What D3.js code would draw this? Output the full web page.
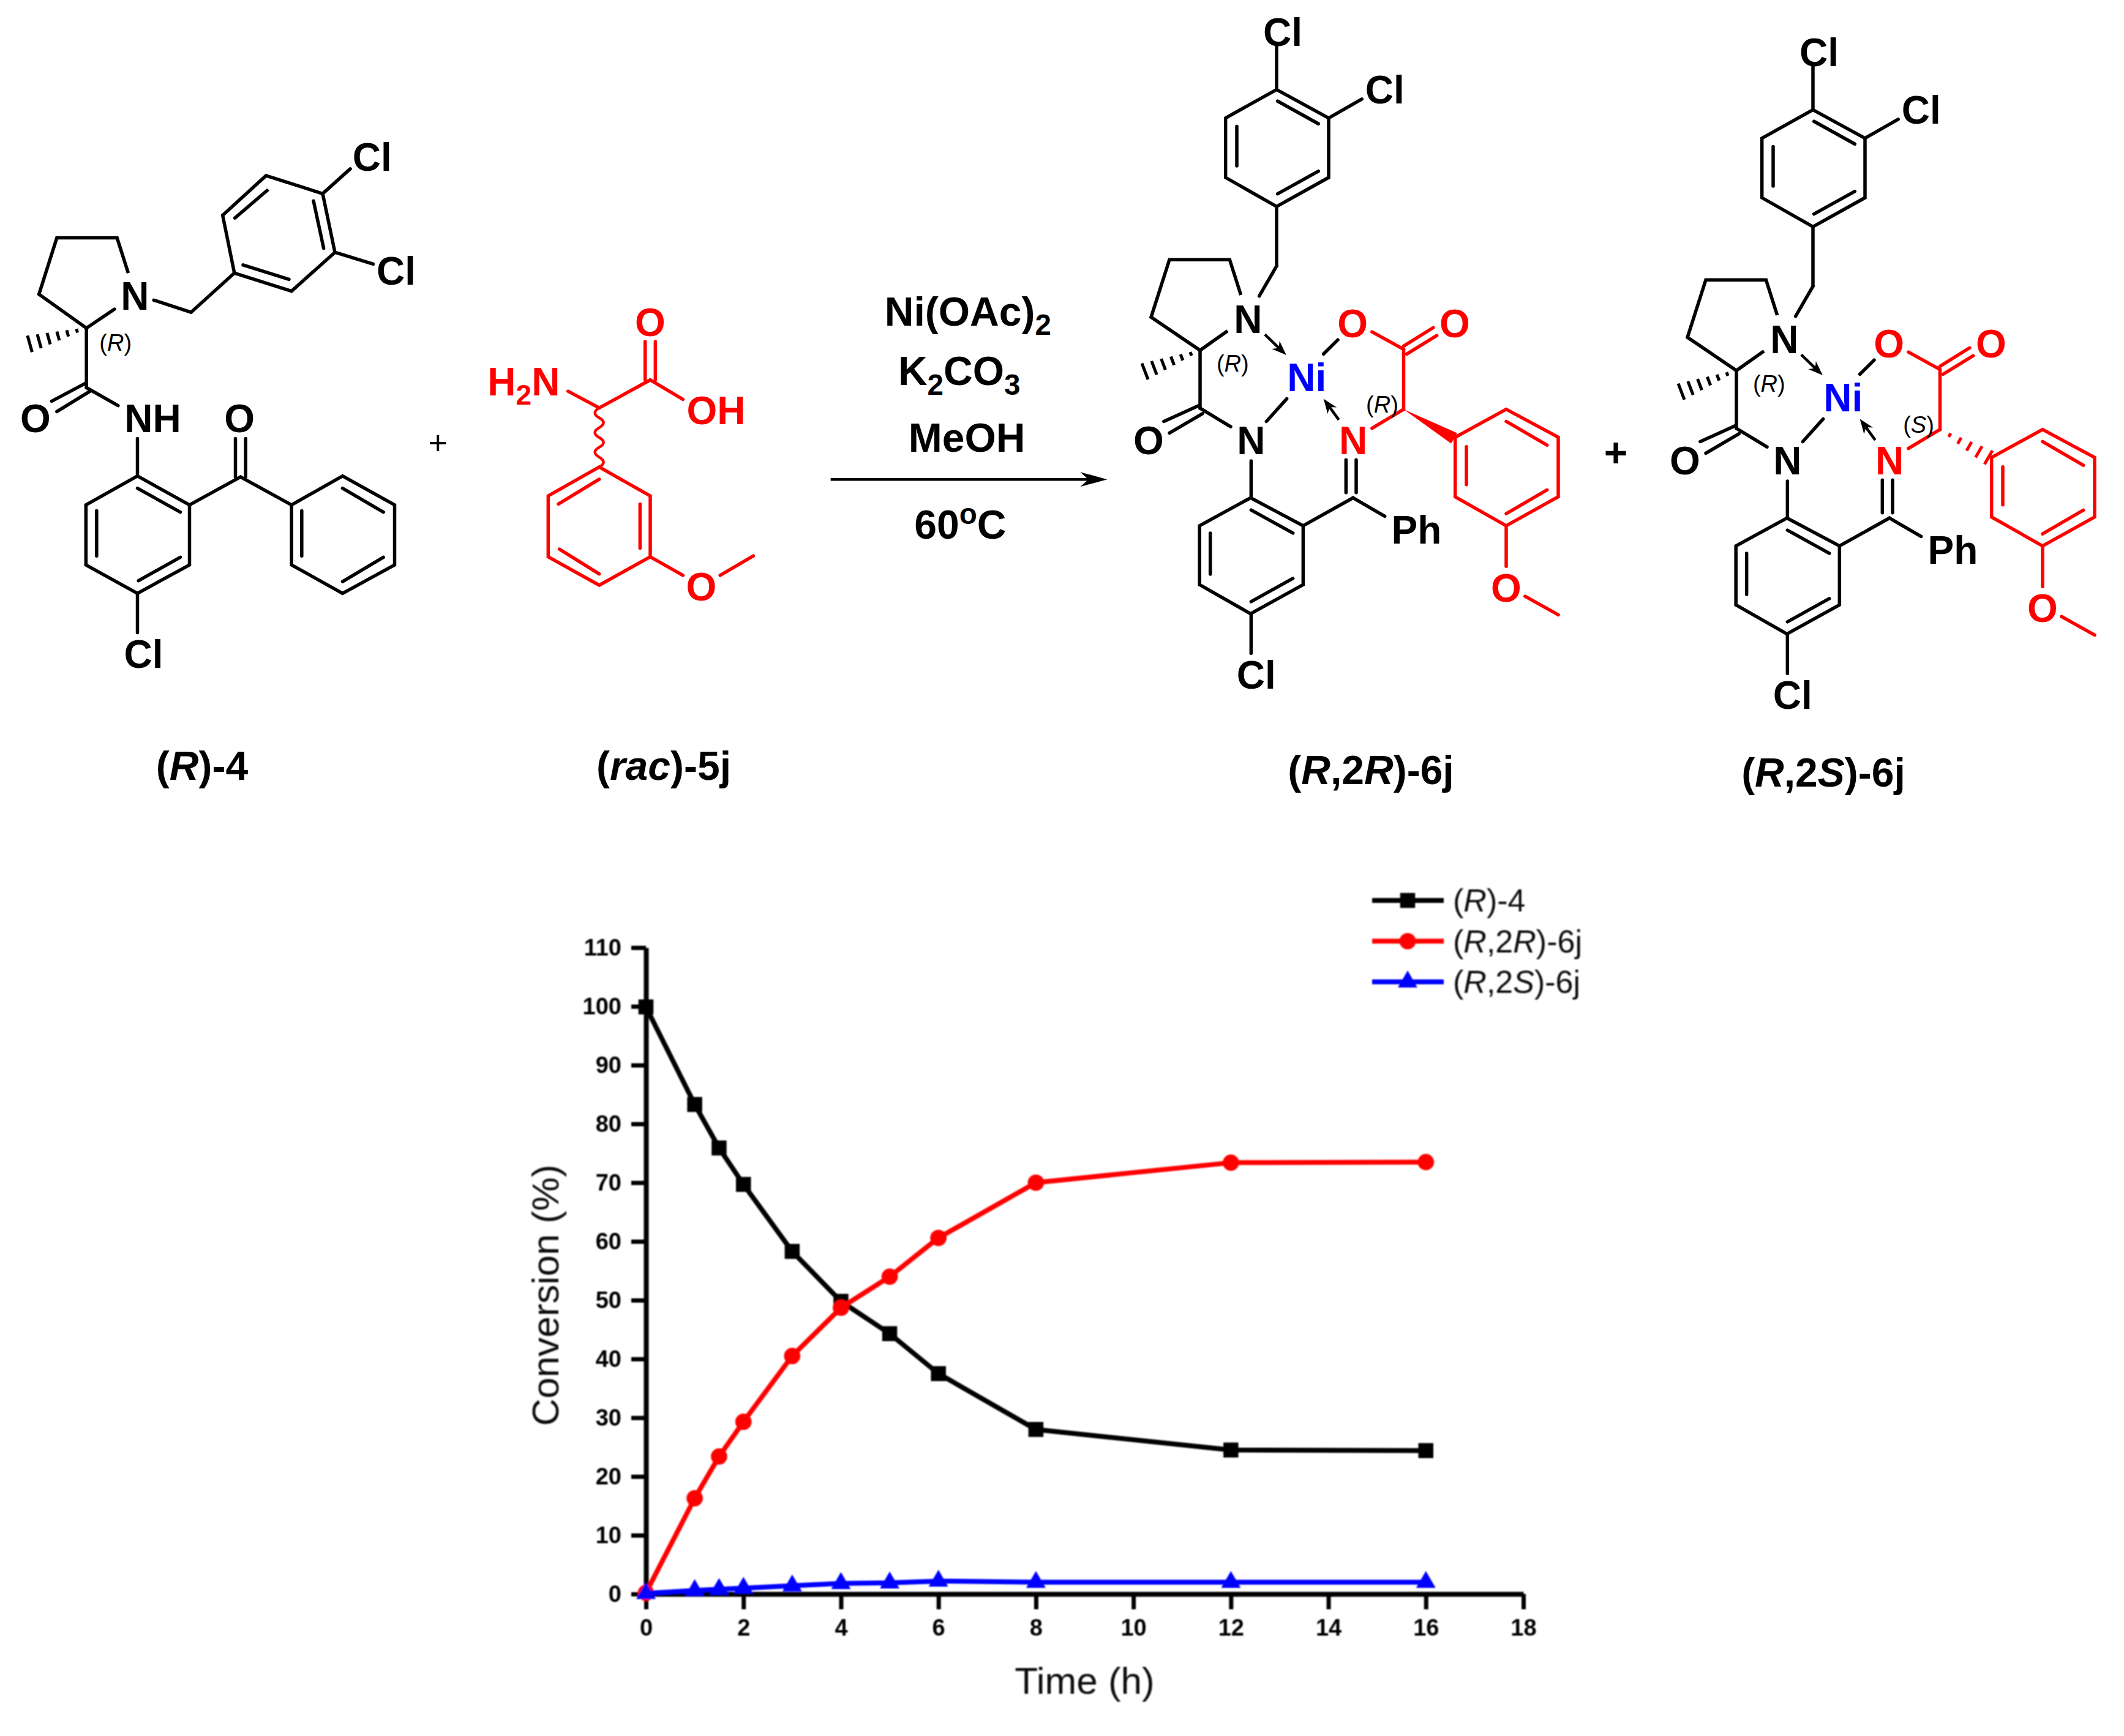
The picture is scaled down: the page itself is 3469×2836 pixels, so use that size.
<!DOCTYPE html>
<html><head><meta charset="utf-8">
<script src="https://cdn.jsdelivr.net/npm/d3@7"></script>
<style>html,body{margin:0;background:#fff}text{font-family:"Liberation Sans",Arial,sans-serif}</style>
</head><body><svg id="c" width="3469" height="2836" xmlns="http://www.w3.org/2000/svg"></svg>
<script>
// ---------- chart data ----------
const times = [0,1,1.5,2,3,4,5,6,8,12,16];
const seriesR4 = [99.9,83.3,75.9,69.7,58.3,49.8,44.3,37.5,28,24.5,24.4];
const seriesR2R = [0.2,16.3,23.4,29.3,40.5,48.7,54,60.6,70,73.4,73.5];
const seriesR2S = [0.1,0.6,0.8,1,1.4,1.8,1.9,2.2,2,2,2];
const xTicks = [0,2,4,6,8,10,12,14,16,18];
const yTicks = [0,10,20,30,40,50,60,70,80,90,100,110];
const xTitle = "Time (h)";
const yTitle = "Conversion (%)";
const legendNames = [
  [["(",0],["R",1],[")-4",0]],
  [["(",0],["R",1],[",2",0],["R",1],[")-6j",0]],
  [["(",0],["R",1],[",2",0],["S",1],[")-6j",0]]
];

const BLACK="#000", RED="#f00", BLUE="#00f", ATOM=64, BOND=5.5;
const svg=d3.select("#c");
svg.append("rect").attr("width",3469).attr("height",2836).attr("fill","#fff");
const defs=svg.append("defs");
defs.append("filter").attr("id","soft").append("feGaussianBlur").attr("stdDeviation",1.3);

// ---------- text helper: runs are [text, flags]  i=italic, s=sub, u=sup ----------
function label(g,x,y,runs,o={}){
  const size=o.size||ATOM;
  const t=g.append("text").attr("x",x).attr("y",y)
    .attr("text-anchor",o.anchor||"middle")
    .attr("font-size",size).attr("font-weight",o.weight||"bold")
    .attr("fill",o.fill||BLACK);
  if(o.rotate!=null) t.attr("transform",`rotate(${o.rotate} ${x} ${y})`);
  let shift=0;
  runs.forEach(r=>{
    const [s,f]=typeof r==="string"?[r,""]:r;
    const ts=t.append("tspan").text(s);
    let target=0;
    if(f&&f.includes("s")){target=size*0.24;ts.attr("font-size",size*0.72);}
    if(f&&f.includes("u")){target=-size*0.36;ts.attr("font-size",size*0.72);}
    if(f&&f.includes("i")) ts.attr("font-style","italic");
    ts.attr("dy",target-shift); shift=target;
  });
  return t;
}

// ---------- structure drawing ----------
function segs(g,map,list,color,w=BOND){
  list.forEach(s=>{
    const a=map(s[0],s[1]),b=map(s[2],s[3]);
    g.append("line").attr("x1",a[0]).attr("y1",a[1]).attr("x2",b[0]).attr("y2",b[1])
      .attr("stroke",color).attr("stroke-width",w).attr("stroke-linecap","round");
  });
}
function poly(g,map,pts,color,w=BOND,close=true){
  const m=pts.map(p=>map(p[0],p[1]));
  g.append("path").attr("d","M"+m.map(p=>p.join(",")).join("L")+(close?"Z":""))
    .attr("fill","none").attr("stroke",color).attr("stroke-width",w).attr("stroke-linejoin","miter");
}
function hash(g,map,x1,y1,x2,y2,color,n=6,maxw=26){
  const a=map(x1,y1),b=map(x2,y2),dx=b[0]-a[0],dy=b[1]-a[1],L=Math.hypot(dx,dy),nx=-dy/L,ny=dx/L;
  for(let i=1;i<=n;i++){
    const t=i/n,cx=a[0]+dx*t,cy=a[1]+dy*t,h=maxw*t/2+1;
    g.append("line").attr("x1",cx-nx*h).attr("y1",cy-ny*h).attr("x2",cx+nx*h).attr("y2",cy+ny*h)
      .attr("stroke",color).attr("stroke-width",5);
  }
}
function arrow(g,map,x1,y1,x2,y2,color,w=4.5,len=24,hw=9){
  const a=map(x1,y1),b=map(x2,y2),dx=b[0]-a[0],dy=b[1]-a[1],L=Math.hypot(dx,dy),ux=dx/L,uy=dy/L;
  g.append("line").attr("x1",a[0]).attr("y1",a[1]).attr("x2",b[0]-ux*len*.6).attr("y2",b[1]-uy*len*.6)
    .attr("stroke",color).attr("stroke-width",w);
  g.append("path").attr("fill",color).attr("d",
    `M${b[0]},${b[1]}L${b[0]-ux*len-uy*hw},${b[1]-uy*len+ux*hw}L${b[0]-ux*len*.7},${b[1]-uy*len*.7}L${b[0]-ux*len+uy*hw},${b[1]-uy*len-ux*hw}Z`);
}
function atom(g,map,x,y,runs,fill,o={}){
  const p=map(x,y);
  label(g,p[0],p[1]+(o.size||ATOM)*0.36,runs,{fill,...o});
}

// ---------- reactant (R)-4 and (rac)-5j ----------
const gA=svg.append("g").attr("transform","translate(-3,-3)");
const mA=(x,y)=>[x/1.2,200+y/1.357];
poly(gA,mA,[[525,122],[636,162],[660,292],[575,378],[463,338],[440,210]],BLACK);
segs(gA,mA,[[464,216,527,155],[618,178,638,283],[570,352,480,320],
 [636,162,690,107],[660,292,735,318],[463,338,378,425],[378,425,305,398],
 [173,460,228,418],[173,460,173,590],[170,583,105,622],[180,600,115,645],[173,592,235,632],
 [273,705,273,788],[273,815,357,868],[357,968,275,1020],[193,965,193,865],[273,1048,273,1135],
 [375,852,475,790],[475,790,575,852],[465,790,465,705],[485,790,485,705],
 [675,815,755,868],[755,968,675,1022],[595,965,595,865]],BLACK);
poly(gA,mA,[[255,338],[233,260],[115,260],[80,385],[173,460]],BLACK,BOND,false);
poly(gA,mA,[[273,788],[375,852],[375,985],[273,1048],[172,985],[172,852]],BLACK);
poly(gA,mA,[[575,852],[675,788],[777,852],[777,985],[675,1048],[575,985]],BLACK);
hash(gA,mA,173,460,62,495,BLACK);
atom(gA,mA,733,80,["Cl"],BLACK);atom(gA,mA,780,333,["Cl"],BLACK);
atom(gA,mA,268,388,["N"],BLACK);atom(gA,mA,73,660,["O"],BLACK);
atom(gA,mA,303,660,["NH"],BLACK);atom(gA,mA,473,660,["O"],BLACK);atom(gA,mA,285,1182,["Cl"],BLACK);
atom(gA,mA,230,492,["(",["R","i"],")"],BLACK,{size:38,weight:"normal"});
atom(gA,mA,862,713,["+"],BLACK,{size:54,weight:"normal"});
// amino acid
segs(gA,mA,[[1117,600,1178,637],[1178,637,1278,575],[1278,575,1342,618],[1268,575,1268,490],[1288,575,1288,490],
 [1178,795,1098,850],[1100,950,1178,1005],[1258,948,1258,850],[1278,967,1342,1008],[1415,1008,1480,965]],RED);
poly(gA,mA,[[1178,768],[1278,832],[1278,967],[1178,1030],[1078,967],[1078,832]],RED);
{ // wavy bond
  const a=mA(1178,637),b=mA(1178,768),n=6,h=(b[1]-a[1])/n; let d=`M${a[0]},${a[1]}`;
  for(let i=0;i<n;i++){const s=i%2?1:-1; d+=`Q${a[0]+s*14},${a[1]+h*(i+.5)} ${a[0]},${a[1]+h*(i+1)}`;}
  gA.append("path").attr("d",d).attr("fill","none").attr("stroke",RED).attr("stroke-width",4.5);
}
atom(gA,mA,1030,578,["H",["2","s"],"N"],RED);
atom(gA,mA,1278,447,["O"],RED);atom(gA,mA,1407,642,["OH"],RED);atom(gA,mA,1378,1033,["O"],RED);

// ---------- compound names ----------
const gN=svg.append("g");
const NAME=66, nameY=c=>c+NAME*0.36;
label(gN,330,nameY(1250),["(",["R","i"],")-4"],{size:NAME});
label(gN,1084,nameY(1250),["(",["rac","i"],")-5j"],{size:NAME});
label(gN,2239,nameY(1257),["(",["R","i"],",2",["R","i"],")-6j"],{size:NAME});
label(gN,2978,nameY(1261),["(",["R","i"],",2",["S","i"],")-6j"],{size:NAME});

// ---------- reagents and arrow ----------
const mR=(x,y)=>[1300+x/1.2,y/1.162];
const mP=(x,y)=>[1295+x/1.2,y/1.162];
const gR=svg.append("g");
atom(gR,mR,337,590,["Ni(OAc)",["2","s"]],BLACK,{size:66});
atom(gR,mR,320,703,["K",["2","s"],"CO",["3","s"]],BLACK,{size:66});
atom(gR,mR,335,830,["MeOH"],BLACK,{size:66});
atom(gR,mR,322,995,["60",["o","u"],"C"],BLACK,{size:66});
arrow(gR,mR,68,910,610,910,BLACK,4.5,44,12);

// ---------- products ----------
function product(dx,dy,secondStereo){
  const g=svg.append("g").attr("transform",`translate(${dx},${dy})`);
  const m=mP;
  poly(g,m,[[948,170],[1050,224],[1050,337],[948,392],[848,337],[848,224]],BLACK);
  poly(g,m,[[897,945],[1000,998],[1000,1110],[897,1165],[797,1110],[797,998]],BLACK);
  poly(g,m,[[878,560],[856,493],[738,493],[702,602],[798,665],[852,628]],BLACK,BOND,false);
  segs(g,m,[[950,192,1030,235],[1030,325,950,368],[870,315,870,240],[948,170,948,85],[1050,224,1115,188],
   [948,392,948,505],[948,505,914,562],[798,665,798,775],[795,770,727,800],[803,785,738,822],[798,775,858,810],
   [928,800,968,757],[1040,672,1068,645],[1084,873,1084,935],[1104,873,1104,935],[1098,945,1160,980],[1098,945,1000,998],
   [898,875,898,945],[898,968,980,1012],[980,1098,898,1142],[818,1090,818,1012],[898,1165,898,1240]],BLACK);
  arrow(g,m,925,635,967,674,BLACK);
  arrow(g,m,1070,797,1040,757,BLACK);
  hash(g,m,798,665,690,705,BLACK);
  segs(g,m,[[1135,630,1197,663],[1197,657,1255,622],[1203,672,1262,637],[1197,663,1197,777],[1197,777,1135,813],
   [1398,800,1478,845],[1478,930,1398,975],[1320,920,1320,848],[1398,998,1398,1075],[1435,1132,1500,1167]],RED);
  poly(g,m,[[1398,777],[1500,830],[1500,943],[1398,998],[1298,943],[1298,830]],RED);
  if(secondStereo){ hash(g,m,1197,777,1292,830,RED,5,24); }
  else {
    const a=m(1197,777),b=m(1302,822),c=m(1290,842);
    g.append("path").attr("d",`M${a}L${b}L${c}Z`).attr("fill",RED);
  }
  atom(g,m,960,60,["Cl"],BLACK);atom(g,m,1160,170,["Cl"],BLACK);atom(g,m,892,605,["N"],BLACK);
  atom(g,m,697,835,["O"],BLACK);atom(g,m,898,835,["N"],BLACK);atom(g,m,1222,1005,["Ph"],BLACK);atom(g,m,908,1280,["Cl"],BLACK);
  atom(g,m,1007,716,["Ni"],BLUE);
  atom(g,m,1097,613,["O"],RED);atom(g,m,1297,613,["O"],RED);atom(g,m,1098,835,["N"],RED);atom(g,m,1398,1115,["O"],RED);
  atom(g,m,862,690,["(",["R","i"],")"],BLACK,{size:38,weight:"normal"});
  atom(g,m,1155,767,["(",[secondStereo?"S":"R","i"],")"],BLACK,{size:38,weight:"normal"});
}
product(0,0,false);
product(876,33,true);
svg.append("g").call(g=>label(g,2639,762,["+"],{size:66}));

// ---------- chart ----------
const X0=1055,X1=2488,Y0=2604,Y1=1548;
const x=d3.scaleLinear().domain([0,18]).range([X0,X1]);
const y=d3.scaleLinear().domain([0,110]).range([Y0,Y1]);
const gC=svg.append("g").attr("filter","url(#soft)");
const xAxis=gC.append("g").attr("transform",`translate(0,${Y0})`).call(d3.axisBottom(x).tickValues(xTicks).tickFormat(d3.format("d")).tickSize(25).tickSizeOuter(0).tickPadding(16));
const yAxis=gC.append("g").attr("transform",`translate(${X0},0)`).call(d3.axisLeft(y).tickValues(yTicks).tickFormat(d3.format("d")).tickSize(24).tickSizeOuter(0).tickPadding(16));
[xAxis,yAxis].forEach(a=>{
  a.selectAll("path").attr("stroke","#000").attr("stroke-width",8);
  a.selectAll("line").attr("stroke","#000").attr("stroke-width",7);
  a.selectAll("text").attr("font-size",38).attr("font-weight","bold").attr("fill","#000").attr("font-family",'"Liberation Sans"');
});
label(gC,x(9.0),2767,[xTitle],{size:62,weight:"normal",fill:"#111"});
label(gC,912,2116,[yTitle],{size:62,weight:"normal",fill:"#111",rotate:-90});

const line=d3.line().x(d=>x(d[0])).y(d=>y(d[1]));
const series=[
 {v:seriesR4,c:BLACK,sym:d3.symbolSquare,sz:600},
 {v:seriesR2R,c:RED,sym:d3.symbolCircle,sz:560},
 {v:seriesR2S,c:BLUE,sym:d3.symbolTriangle,sz:440}
];
series.forEach(s=>{
  const pts=times.map((t,i)=>[t,s.v[i]]);
  gC.append("path").datum(pts).attr("d",line).attr("fill","none").attr("stroke",s.c).attr("stroke-width",8).attr("stroke-linejoin","round");
  gC.selectAll(null).data(pts).enter().append("path")
    .attr("d",d3.symbol().type(s.sym).size(s.sz))
    .attr("transform",d=>`translate(${x(d[0])},${y(d[1])})`).attr("fill",s.c);
});
// legend
series.forEach((s,i)=>{
  const ly=1471+i*66.5;
  gC.append("line").attr("x1",2241).attr("x2",2358).attr("y1",ly).attr("y2",ly).attr("stroke",s.c).attr("stroke-width",8);
  gC.append("path").attr("d",d3.symbol().type(s.sym).size(s.sz)).attr("transform",`translate(2299,${ly})`).attr("fill",s.c);
  label(gC,2373,ly+18,legendNames[i].map(r=>[r[0],r[1]?"i":""]),{anchor:"start",size:52,weight:"normal",fill:"#111"});
});
</script></body></html>
